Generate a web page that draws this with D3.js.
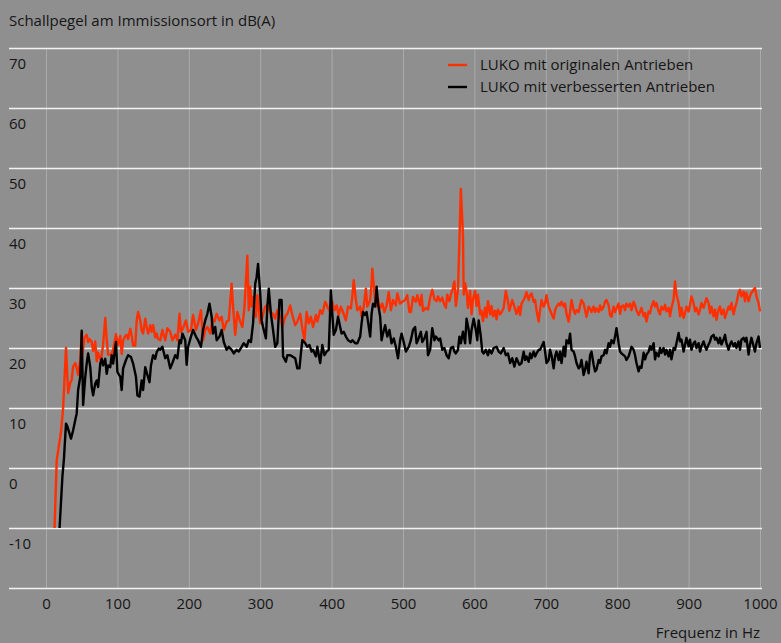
<!DOCTYPE html>
<html>
<head>
<meta charset="utf-8">
<script src="https://cdn.jsdelivr.net/npm/d3@7"></script>
<style>
html,body{margin:0;padding:0;background:#8f8f8f;}
svg{display:block;}
text{font-family:"Open Sans",sans-serif;fill:#161616;}
</style>
</head>
<body>
<svg id="chart" width="781" height="643"></svg>
<script>
// ---- data ----
const title = "Schallpegel am Immissionsort in dB(A)";
const xTitle = "Frequenz in Hz";
const seriesNames = ["LUKO mit originalen Antrieben", "LUKO mit verbesserten Antrieben"];
const xTicks = [0,100,200,300,400,500,600,700,800,900,1000];
const yTicks = [-10,0,10,20,30,40,50,60,70];

const originalFreq = [12,15,21,24,26,28,31,34,36,38,41,43,45,48,50,51,54,57,59,61,64,66,69,71,73,77,80,83,85,87,91,94,98,101,104,106,108,111,113,115,118,120,122,125,127,129,132,134,136,139,141,143,146,148,150,153,155,157,
160,163,167,170,174,177,181,184,187,189,192,196,199,203,206,210,213,217,220,223,226,230,233,236,239,243,246,249,253,256,260,262,265,268,272,275,278,282,284,286,288,290,294,296,300,303,307,310,314,318,321,324,
328,331,335,338,342,345,349,352,356,359,362,365,368,371,374,378,380,384,387,391,394,398,401,404,407,410,413,416,420,423,427,429,431,434,436,440,442,445,448,450,454,456,457,460,462,464,468,471,474,477,480,483,486,490,492,496,499,503,506,509,
511,514,518,520,524,
526,528,532,535,538,541,544,547,549,552,555,557,560,562,565,567,570,572,574,577,579,581,584,585,587,589,591,594,596,598,601,603,605,608,610,612,615,617,619,622,624,626,629,631,633,636,639,641,644,647,649,
653,656,659,662,664,
666,669,671,673,676,678,680,683,685,687,690,692,694,697,699,701,704,706,708,711,713,715,718,720,722,725,727,729,732,734,736,739,741,743,746,748,750,753,755,757,760,762,764,767,769,771,774,776,778,781,783,785,788,790,792,795,797,799,802,804,806,809,811,813,816,818,820,823,825,827,830,832,
834,837,839,841,844,846,848,851,853,855,858,860,862,865,867,869,872,874,876,879,881,883,886,888,890,893,895,897,900,902,904,907,909,911,914,916,918,921,923,925,928,930,932,935,937,939,942,944,946,949,951,953,956,958,960,963,965,967,970,972,974,977,979,981,984,986,988,991,993,995,998,1000];

const originalLevel = [-10,1.3,6,10,15,20,12.5,14.2,14.7,16.9,17.5,16.7,15.5,18,22.5,19,21.8,22.2,21,21.5,21,19.5,21.1,17.8,19.2,17.8,20.6,25,21.4,18.9,18.9,19.7,22.3,20.5,22,19,21.2,22,22.2,21.5,23.2,22.1,20.4,20.4,24.6,26,24.6,22.9,22.4,24.9,23.5,22.4,23.8,22.7,23.8,21.8,22.4,21.5,
21.3,23,21.3,23.3,22.7,21.3,22.2,21.3,25.7,22.7,23.3,24.6,22.7,23,25.5,23,24.1,26.3,21.3,23,23.5,22.4,24.9,24.4,25.7,24.6,25.2,23,24.4,24.6,30.7,26.9,22.2,26,24.4,23.5,26.9,35.4,26.3,30.2,26.9,28.5,25.2,28.8,24.1,25.2,26.9,27.1,26,25.7,24.9,26.3,
25.2,23.5,25.2,25.7,27.1,25.5,23.8,24.4,25.7,23.3,21.3,26,24.1,25.2,23.5,25.5,24.4,26.3,25.7,27.7,26.9,26,27.7,26.3,27.1,25.5,26.9,26,24.6,26.9,26.6,28.5,31.3,28,26.3,26.9,25.2,26.9,29.9,26.9,28,30.7,33.2,29.1,26.9,28.5,26.6,27.4,26,27.1,29.3,26.3,28,27.1,29.1,27.4,27.7,28,28.8,26,
26,28.5,27.7,28.8,27.1,
28.9,26.2,26.7,26.4,28.4,29.7,28.1,27.8,28.6,27.8,28.4,27.5,26.7,28.9,27.8,28.9,30,31.1,27,29.7,37.7,46.5,38.8,28.9,30.8,29.5,26.7,29.5,25.6,28.1,29.5,27,28.9,25.6,26.2,24.5,26.7,25.1,27.8,25.6,27,25.3,26.2,24.8,26.4,25.6,26.2,26.7,29.5,27.8,26.2,
28,26.9,25.7,26.9,25.5,
27.4,28,28.5,29.3,28,28.8,29.1,27.7,28,26.3,24.4,26.3,28,26.9,27.4,28.8,26.9,26.3,25.7,24.9,26.3,26.9,27.4,27.1,27.7,26.9,27.4,25.7,24.4,26,28,26.3,25.7,26.3,26,27.1,28,27.4,26.3,25.2,26.9,26.6,26,26.9,26,26.6,26,27.1,26.3,26.9,27.7,28,27.1,25.5,25.2,26.9,26,26.6,27.4,25.7,26.9,27.1,26.3,27.4,26.9,27.4,26.3,27.7,27.1,26.3,25.5,26,
26.7,25.3,25.8,24.4,26.1,25.8,26.9,27.8,26.9,27.5,26.1,25.6,26.9,26.4,27.2,26.1,26.7,25.3,26.7,28.1,31.1,28.9,27.5,25.3,26.7,25,25.8,26.9,26.1,27.2,28.6,27.5,26.1,26.7,25.6,26.4,27.5,26.7,27.5,28.3,27.5,25.8,26.9,25.3,26.4,24.7,26.4,26.9,25.6,26.4,25,25.8,26.9,26.4,27.5,25.6,26.7,27.5,29.2,29.7,28.6,29.4,27.8,29.2,27.8,28.6,29.2,29.7,30,28.6,27.5,26.1];

const improvedFreq = [19,23,25,28,30,35,38,41,43,45,48,50,52,55,57,59,62,64,66,69,71,73,76,78,80,83,85,87,90,92,94,98,100,104,106,108,112,115,119,122,126,128,131,134,136,139,142,145,147,150,153,155,158,
160,163,167,170,174,177,181,184,187,189,191,195,197,199,203,206,210,213,217,220,223,226,229,232,234,237,239,243,246,249,253,256,260,263,267,270,274,277,281,284,287,290,293,295,297,300,302,304,308,310,312,315,318,321,324,327,
330,332,336,338,342,345,349,352,355,357,359,363,366,369,372,374,378,380,384,387,390,393,396,399,401,403,406,409,412,414,417,420,423,427,429,433,436,440,442,444,447,449,451,454,456,458,461,463,465,468,470,472,475,478,481,484,487,490,493,496,498,501,504,508,
511,514,517,519,521,525,527,530,533,535,538,541,544,546,550,552,555,558,561,564,567,570,572,574,577,579,581,584,587,589,592,594,596,599,602,604,606,609,611,613,616,619,621,624,627,631,634,637,641,644,647,650,653,656,659,663,
666,669,671,673,676,678,680,683,685,687,690,692,694,697,699,701,704,706,708,711,713,715,718,720,722,725,727,729,732,734,736,739,741,743,746,748,750,753,755,757,760,762,764,767,769,771,774,776,778,781,783,785,788,790,792,795,797,799,802,804,806,809,811,813,816,818,820,823,825,827,830,832,
834,837,839,841,844,846,848,851,853,855,858,860,862,865,867,869,872,874,876,879,881,883,886,888,890,893,895,897,900,902,904,907,909,911,914,916,918,921,923,925,928,930,932,935,937,939,942,944,946,949,951,953,956,958,960,963,965,967,970,972,974,977,979,981,984,986,988,991,993,995,998,1000];

const improvedLevel = [-10,-1.4,1.3,7.4,6.9,4.9,6.3,8,9.1,13,15.2,22.9,10.5,15.2,17.4,19.1,16.8,13.5,12.1,14.1,14.6,13.5,17.4,18.2,17.1,18.2,15.7,17.1,16.8,18.8,17.4,21,16,15.2,13,16.6,18,18.8,18.5,17.4,15.2,12.1,11.9,14.6,13,16.8,15.5,14.3,17.1,18.8,18.2,19.3,19.9,
19.7,20.2,18.3,18.8,16.6,17.5,18.8,18.3,21.3,20.8,22.4,21.3,17.2,20.2,21.9,23,21.9,21.3,20.2,23,24.6,25.7,27.4,25.2,22.4,23.5,21.3,21.9,23,21,19.7,20.2,19.7,19.1,19.7,19.4,20.2,20.8,20.2,21.3,21,24.1,30.7,31.8,34,29.1,24.6,23.5,21.6,26.9,29.9,25.7,23,20.2,20.8,28,
28,18.6,17.7,18.8,18.8,18.6,18.3,16.6,16.6,19.1,21.3,20.8,20.2,20.5,19.4,19.7,18.6,20.2,17.5,20.5,18.8,19.4,19.7,29.6,25.7,22.2,23,25.2,23.5,22.4,22.7,21.9,21.3,21,21.3,20.8,20.8,21.9,24.1,26,25.5,26,24.4,21.9,25.7,27.4,26.9,30.2,27.4,25.2,21.3,22.4,23.8,21.9,23,20.8,21.6,20.2,18.3,21.3,22.4,21,19.4,20.2,
21.3,23,23.5,20.8,21.3,22.7,21,21.6,22.7,18.8,19.7,23.3,21.3,21.9,21.3,21.6,19.7,20,18.8,18.3,20,20.2,19.4,19.1,19.7,21.9,20.8,22.7,20.8,24.9,23,20.8,23,24.9,23,21.3,24.6,21.9,19.4,19.1,19.7,18.8,19.7,19.1,20,20.2,19.4,19.1,20,18.8,19.1,17.5,18.3,16.9,18.3,17.2,
17.5,19.4,18,18.6,17.7,19.1,18.3,19.4,18.6,19.1,19.7,19.7,20.2,21,19.4,17.5,18,19.7,18.8,16.6,18.6,19.4,18,19.4,17.5,20.2,18.6,21.3,20.8,22.4,19.7,19.4,18.6,17.5,16.6,16.9,18,15.5,16.4,17.7,15.8,18.8,19.4,17.2,16.1,16.4,18,17.5,18.6,18.8,19.7,19.1,20.8,20.2,21.3,20.8,21.9,23.3,20.8,19.4,19.1,18.8,18.6,18,18.6,19.4,20.2,19.7,18.8,17.5,16.1,16.9,
16.7,19.2,18.1,18.9,19.4,20.3,19.7,20.8,18.1,19.2,18.6,20,19.2,20,18.9,19.7,18.6,19.7,18.1,20,19.7,20.8,22.5,21.1,21.4,19.4,20.6,21.7,20.3,21.4,19.7,20.8,21.1,20,20.8,19.4,20.3,21.1,20.3,19.7,20.6,21.1,21.9,22.2,21.4,21.7,20.8,21.7,20.6,21.4,22.2,20.8,19.7,20.6,21.1,20.3,20.8,20,21.1,19.7,21.4,21.7,21.1,21.7,18.9,20.6,21.7,20.3,19.4,20.8,21.9,20];

// ---- drawing ----
const W = 781, H = 643;
const svg = d3.select("#chart");
svg.append("rect").attr("width", W).attr("height", H).attr("fill", "#8f8f8f");

const x = d3.scaleLinear().domain([0, 1000]).range([46, 760]);
const y = d3.scaleLinear().domain([-20, 70]).range([588, 48]);
const gridLeft = 9, gridRight = 762;

// vertical grid + x labels
const xAxis = d3.axisBottom(x).tickValues(xTicks).tickSize(-(y(-20) - y(70))).tickPadding(10).tickFormat(d3.format("d"));
const gx = svg.append("g").attr("transform", `translate(0,${y(-20)})`).call(xAxis);
gx.select(".domain").remove();
gx.selectAll(".tick line").attr("stroke", "#aaaaaa").attr("stroke-width", 1);
gx.selectAll(".tick text").attr("font-size", 15).attr("fill", "#161616").attr("font-family", "'Open Sans', sans-serif");

// horizontal grid + y labels
const yAxis = d3.axisRight(y).tickValues(yTicks.concat([-20])).tickSize(gridRight - gridLeft).tickFormat(d => d === -20 ? "" : d);
const gy = svg.append("g").attr("transform", `translate(${gridLeft},0)`).call(yAxis);
gy.select(".domain").remove();
gy.selectAll(".tick line").attr("stroke", "#f2f2f2").attr("stroke-width", 1.4);
gy.selectAll(".tick text")
  .attr("x", 0).attr("dy", "1.35em").attr("text-anchor", "start")
  .attr("font-size", 15).attr("fill", "#161616").attr("font-family", "'Open Sans', sans-serif");

// series
const line = d3.line().x(d => x(d[0])).y(d => y(d[1]));
const orig = d3.zip(originalFreq, originalLevel);
const impr = d3.zip(improvedFreq, improvedLevel);
svg.append("path").datum(orig).attr("d", line).attr("fill", "none")
  .attr("stroke", "#ff3000").attr("stroke-width", 2.4).attr("stroke-linejoin", "round");
svg.append("path").datum(impr).attr("d", line).attr("fill", "none")
  .attr("stroke", "#000000").attr("stroke-width", 2.4).attr("stroke-linejoin", "round");

// titles
svg.append("text").attr("x", 9).attr("y", 26).attr("font-size", 15).text(title);
svg.append("text").attr("x", 760).attr("y", 638).attr("text-anchor", "end").attr("font-size", 15).text(xTitle);

// legend
const legendColors = ["#ff3000", "#000000"];
const lg = svg.append("g");
seriesNames.forEach((name, i) => {
  const ly = 65 + i * 22;
  lg.append("line").attr("x1", 448).attr("x2", 467).attr("y1", ly).attr("y2", ly)
    .attr("stroke", legendColors[i]).attr("stroke-width", 2.4);
  lg.append("text").attr("x", 480).attr("y", ly).attr("dy", "0.35em").attr("font-size", 15).text(name);
});
</script>
</body>
</html>
